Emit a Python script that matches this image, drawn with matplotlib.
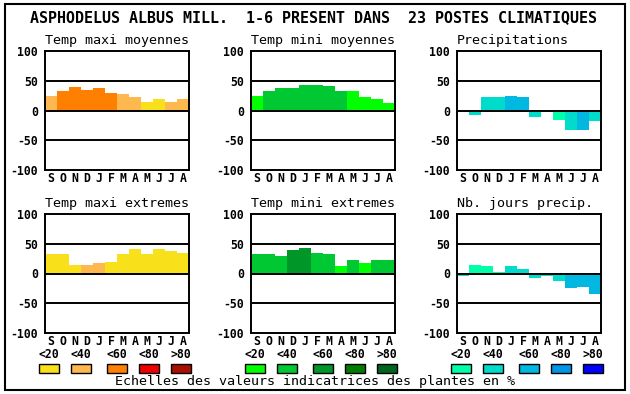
import numpy as np
import matplotlib
matplotlib.use("Agg")
import matplotlib.pyplot as plt
from matplotlib.patches import Rectangle

# mois (septembre -> aout)
months = ["S", "O", "N", "D", "J", "F", "M", "A", "M", "J", "J", "A"]
y_ticks = [100, 50, 0, -50, -100]
scale_labels = ["<20", "<40", "<60", "<80", ">80"]

# palettes des classes (valeurs indicatrices en %)
warm = ["#f8e01a", "#ffb84f", "#ff8000", "#ee0000", "#aa1000"]
green = ["#00ff00", "#00c832", "#009628", "#007d00", "#006420"]
blue = ["#00ffaa", "#00dccc", "#00b8e0", "#0096e8", "#0000ff"]

tmax_moy = [24, 32, 40, 35, 37, 30, 27, 22, 14, 20, 15, 20]
tmax_moy_cls = [1, 2, 2, 2, 2, 2, 1, 1, 0, 0, 1, 1]
tmin_moy = [25, 33, 37, 37, 43, 43, 42, 32, 33, 23, 20, 13]
tmin_moy_cls = [0, 1, 1, 1, 1, 1, 1, 1, 0, 0, 0, 0]
precip = [-2, -8, 22, 22, 25, 22, -11, 0, -16, -33, -33, -18]
precip_cls = [1, 1, 1, 1, 2, 2, 1, 1, 0, 1, 2, 1]
tmax_ext = [33, 32, 15, 15, 17, 20, 33, 42, 33, 42, 37, 35]
tmax_ext_cls = [0, 0, 0, 1, 1, 0, 0, 0, 0, 0, 0, 0]
tmin_ext = [32, 32, 30, 40, 43, 35, 32, 13, 23, 17, 23, 22]
tmin_ext_cls = [1, 1, 1, 2, 2, 1, 1, 0, 1, 0, 1, 1]
jours = [-5, 15, 13, 3, 13, 7, -7, -5, -12, -25, -23, -35]
jours_cls = [1, 0, 0, 0, 1, 1, 1, 1, 1, 2, 2, 2]

panels = [
    ("Temp maxi moyennes", tmax_moy, tmax_moy_cls, warm, 45, 51),
    ("Temp mini moyennes", tmin_moy, tmin_moy_cls, green, 251, 51),
    ("Precipitations", precip, precip_cls, blue, 457, 51),
    ("Temp maxi extremes", tmax_ext, tmax_ext_cls, warm, 45, 214),
    ("Temp mini extremes", tmin_ext, tmin_ext_cls, green, 251, 214),
    ("Nb. jours precip.", jours, jours_cls, blue, 457, 214),
]

W, H = 630, 394
MONO = "DejaVu Sans Mono"


def px(x, y, w, h):
    return [x / W, 1 - (y + h) / H, w / W, h / H]


fig = plt.figure(figsize=(W / 100, H / 100), dpi=100)
fig.patch.set_facecolor("white")

# cadre exterieur
fig.patches.append(Rectangle((5 / W, 1 - 390 / H), 620 / W, 386 / H, transform=fig.transFigure,
                             fill=False, edgecolor="black", linewidth=1.5))

fig.text(314 / W, 1 - 18 / H, "ASPHODELUS ALBUS MILL.  1-6 PRESENT DANS  23 POSTES CLIMATIQUES",
         ha="center", va="center", family=MONO, fontsize=10.8, fontweight="bold")

x = np.arange(12)
for title, vals, cls, pal, ax_x, ax_y in panels:
    ax = fig.add_axes(px(ax_x, ax_y, 144, 119))
    ax.bar(x, vals, width=1.0, color=[pal[c] for c in cls], linewidth=0, zorder=1)
    for v in (50, 0, -50):
        ax.axhline(v, color="black", linewidth=1.4, zorder=3)
    ax.set_xlim(-0.5, 11.5)
    ax.set_ylim(-100, 100)
    ax.set_xticks(x)
    ax.set_xticklabels(months, family=MONO, fontweight="bold", fontsize=8.3)
    ax.set_yticks(y_ticks)
    ax.set_yticklabels([str(t) for t in y_ticks], family=MONO, fontweight="bold", fontsize=8.3)
    ax.tick_params(length=0)
    ax.tick_params(axis="y", pad=5)
    ax.tick_params(axis="x", pad=1.5)
    for s in ax.spines.values():
        s.set_linewidth(1.4)
    ax.text(0, 1.03, title, transform=ax.transAxes, ha="left", va="bottom",
            family=MONO, fontsize=9.6)

# echelles
offsets = [0, 32, 68, 100, 132]
for pal, gx in ((warm, 39), (green, 245), (blue, 451)):
    for off, col, lab in zip(offsets, pal, scale_labels):
        fig.patches.append(Rectangle(((gx + off) / W, 1 - 373 / H), 20 / W, 9 / H,
                                     transform=fig.transFigure, facecolor=col,
                                     edgecolor="black", linewidth=1.0))
        fig.text((gx + off + 10) / W, 1 - 354 / H, lab, ha="center", va="center",
                 family=MONO, fontweight="bold", fontsize=8.3)

fig.text(315 / W, 1 - 382 / H, "Echelles des valeurs indicatrices des plantes en %",
         ha="center", va="center", family=MONO, fontsize=9.6)

fig.savefig("out.png", dpi=100)
